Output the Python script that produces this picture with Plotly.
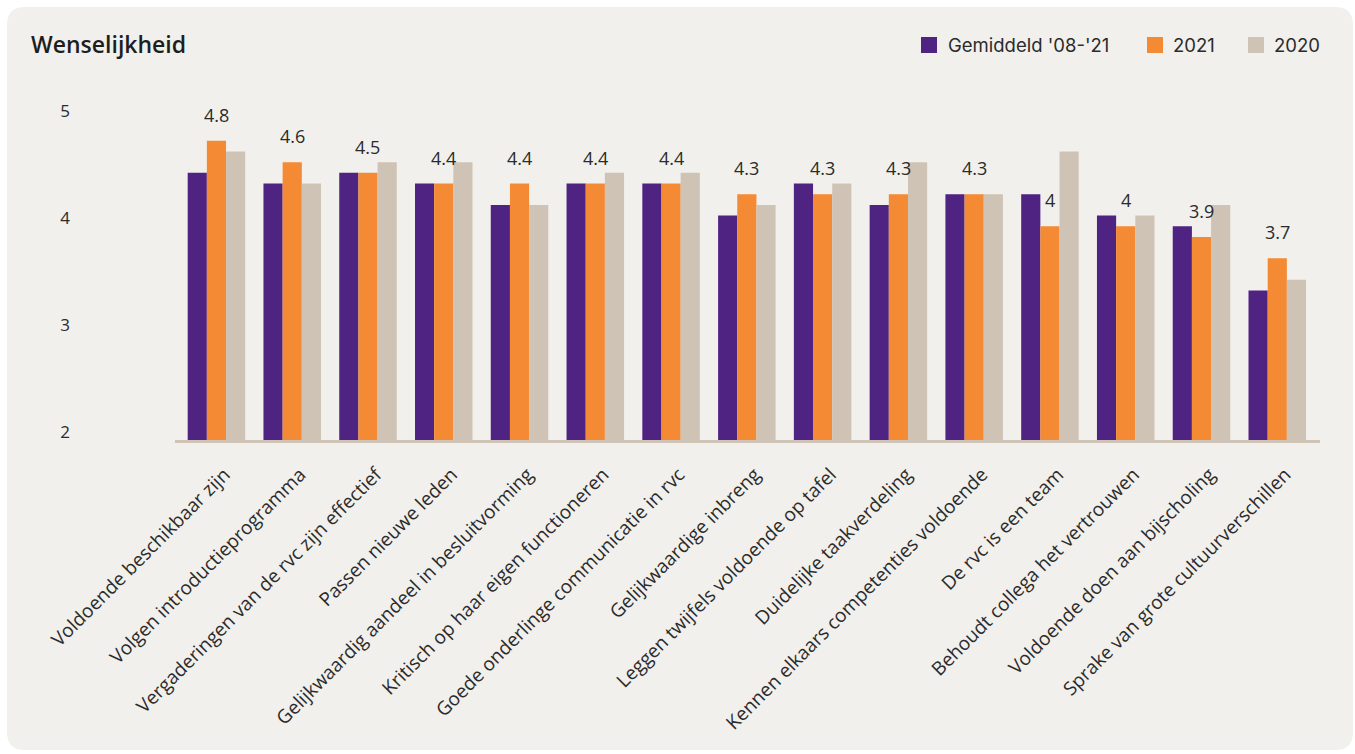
import plotly.graph_objects as go

# Board evaluation scores per statement
categories = [
    "Voldoende beschikbaar zijn",
    "Volgen introductieprogramma",
    "Vergaderingen van de rvc zijn effectief",
    "Passen nieuwe leden",
    "Gelijkwaardig aandeel in besluitvorming",
    "Kritisch op haar eigen functioneren",
    "Goede onderlinge communicatie in rvc",
    "Gelijkwaardige inbreng",
    "Leggen twijfels voldoende op tafel",
    "Duidelijke taakverdeling",
    "Kennen elkaars competenties voldoende",
    "De rvc is een team",
    "Behoudt collega het vertrouwen",
    "Voldoende doen aan bijscholing",
    "Sprake van grote cultuurverschillen",
]
avg_08_21 = [4.5, 4.4, 4.5, 4.4, 4.2, 4.4, 4.4, 4.1, 4.4, 4.2, 4.3, 4.3, 4.1, 4.0, 3.4]
score_2021 = [4.8, 4.6, 4.5, 4.4, 4.4, 4.4, 4.4, 4.3, 4.3, 4.3, 4.3, 4.0, 4.0, 3.9, 3.7]
score_2020 = [4.7, 4.4, 4.6, 4.6, 4.2, 4.5, 4.5, 4.2, 4.4, 4.6, 4.3, 4.7, 4.1, 4.2, 3.5]

series_names = ["Gemiddeld '08-'21", "2021", "2020"]
y_ticks = [2, 3, 4, 5]

PURPLE = "#4f2382"
ORANGE = "#f48a33"
BEIGE = "#cfc3b5"
CARD = "#f1f0ec"
TEXT = "#2b2b2b"

W, H = 1355, 754
L, R, T, B = 175, 35, 98, 314
PW, PH = W - L - R, H - T - B


def px_x(x):
    return (x - L) / PW


def px_y(y):
    return (H - B - y) / PH


fig = go.Figure()
for name, vals, col in zip(series_names, [avg_08_21, score_2021, score_2020],
                           [PURPLE, ORANGE, BEIGE]):
    fig.add_trace(go.Bar(
        x=categories, y=vals, name=name,
        marker=dict(color=col, line=dict(width=0)),
        showlegend=False,
    ))

# value labels above the 2021 bars
for cat, v in zip(categories, score_2021):
    fig.add_annotation(
        x=cat, y=v, text=f"{v:g}", showarrow=False,
        xref="x", yref="y", yanchor="middle", yshift=26,
        font=dict(family="Open Sans", size=18, color=TEXT),
    )

# rounded card background
x0, y0, x1, y1, r = 7, 7, 1353, 750, 18
pts = [
    ("M", x0 + r, y0), ("L", x1 - r, y0), ("Q", x1, y0, x1, y0 + r),
    ("L", x1, y1 - r), ("Q", x1, y1, x1 - r, y1), ("L", x0 + r, y1),
    ("Q", x0, y1, x0, y1 - r), ("L", x0, y0 + r), ("Q", x0, y0, x0 + r, y0),
]
path = ""
for p in pts:
    cmd, coords = p[0], p[1:]
    xy = []
    for i in range(0, len(coords), 2):
        xy.append(f"{px_x(coords[i]):.5f},{px_y(coords[i + 1]):.5f}")
    path += cmd + " ".join(xy) + " "
path += "Z"
fig.add_shape(type="path", path=path, xref="paper", yref="paper",
              fillcolor=CARD, line=dict(width=0), layer="below")

# title
fig.add_annotation(
    x=px_x(29), y=px_y(44), xref="paper", yref="paper", text="Wenselijkheid",
    showarrow=False, xanchor="left", yanchor="middle",
    font=dict(family="Open Sans", size=23, weight=600, color="#1e1e1e"),
)

# legend
legend_items = [(921, 946), (1147, 1171), (1248, 1272)]
for (sx, tx), name, col in zip(legend_items, series_names, [PURPLE, ORANGE, BEIGE]):
    fig.add_shape(type="rect", xref="paper", yref="paper",
                  x0=px_x(sx), x1=px_x(sx + 16), y0=px_y(37), y1=px_y(53),
                  fillcolor=col, line=dict(width=0))
    fig.add_annotation(
        x=px_x(tx), y=px_y(45), xref="paper", yref="paper", text=name,
        showarrow=False, xanchor="left", yanchor="middle",
        font=dict(family="Inter", size=18.5, color=TEXT),
    )

fig.update_layout(
    width=W, height=H,
    margin=dict(l=L, r=R, t=T, b=B, pad=0),
    paper_bgcolor="white", plot_bgcolor="rgba(0,0,0,0)",
    barmode="group", bargap=0.241, bargroupgap=0,
    font=dict(family="Open Sans", color=TEXT),
)
fig.update_xaxes(
    range=[-0.547, 14.564], showgrid=False, zeroline=False,
    showline=True, linecolor=BEIGE, linewidth=3,
    tickangle=-45, tickfont=dict(family="Open Sans", size=19, color=TEXT),
    ticks="", ticklabelshift=8, ticklabelstandoff=13,
)
fig.update_yaxes(
    range=[2, 5.2], tickvals=y_ticks, showgrid=False, zeroline=False,
    showline=False, ticks="", ticklabelstandoff=104, ticklabelshift=-8,
    tickfont=dict(family="Open Sans", size=17, color=TEXT),
)

fig.write_html("out.html")
